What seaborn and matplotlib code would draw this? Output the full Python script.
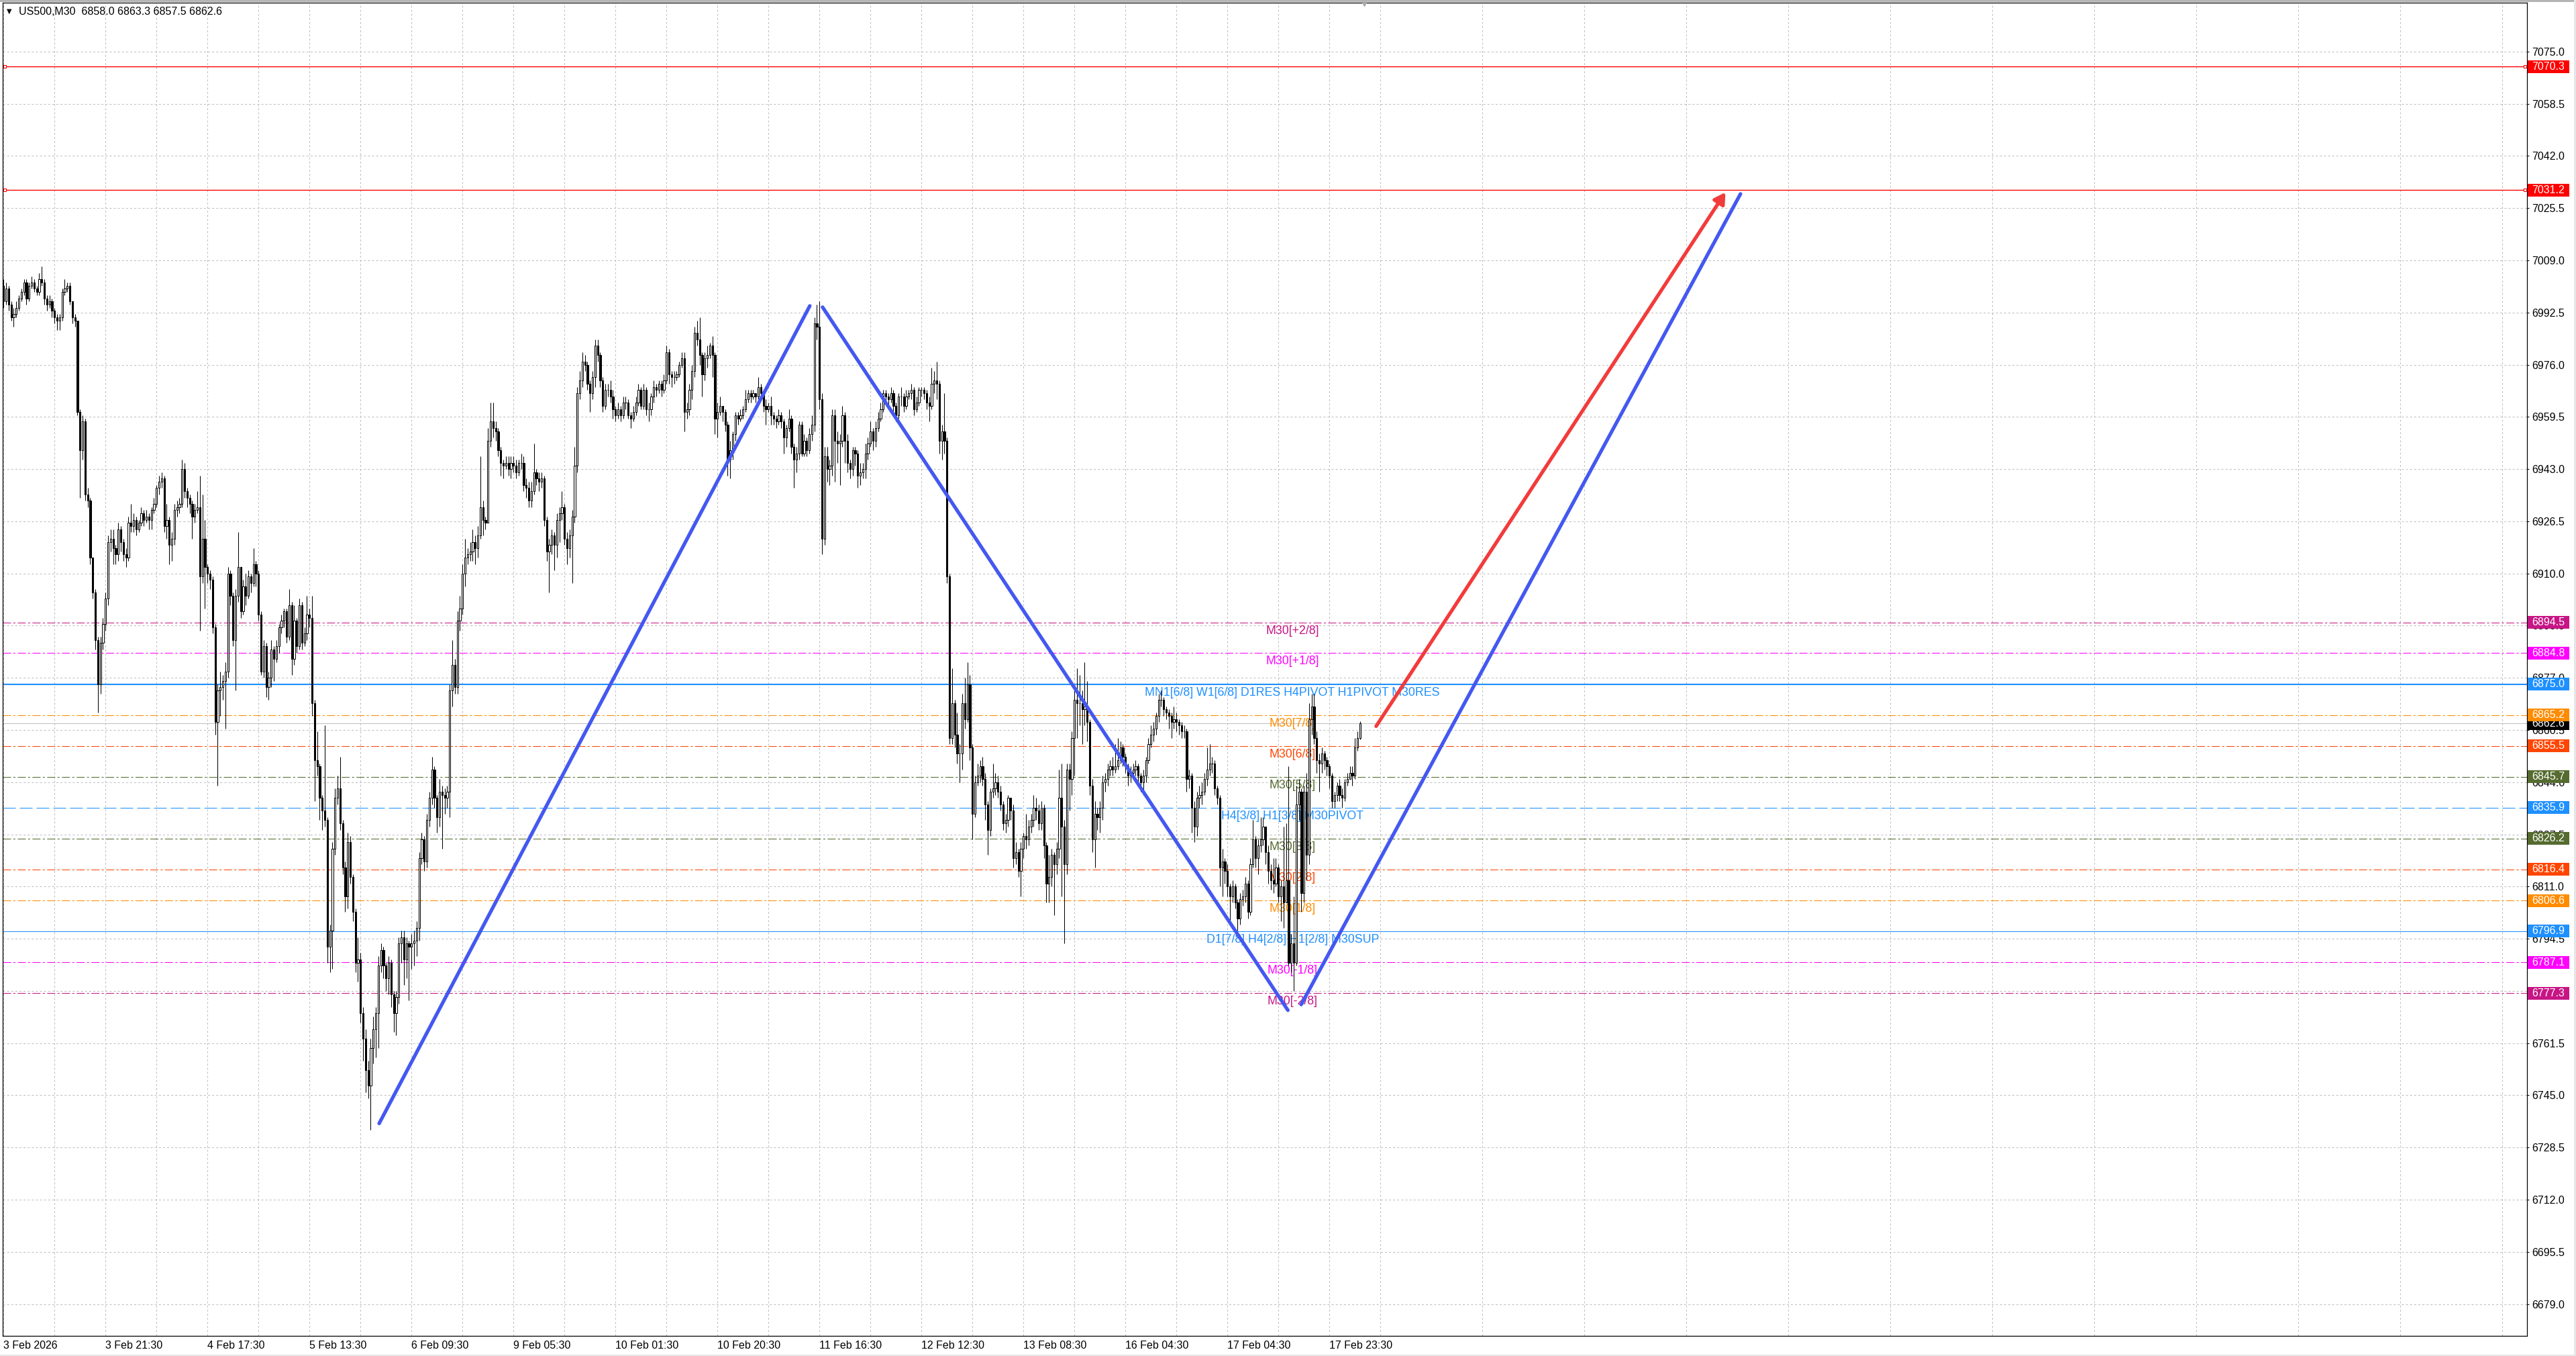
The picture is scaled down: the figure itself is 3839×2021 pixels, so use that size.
"""US500 M30 chart with octave levels, price tags and drawn trend lines."""
import matplotlib
matplotlib.use("Agg")

import matplotlib.pyplot as plt
import matplotlib.transforms as mtransforms
from matplotlib.patches import Rectangle
import numpy as np
import pandas as pd
import seaborn as sns

# =============================================================================
# Data
# =============================================================================
SYMBOL = "US500,M30"
FIRST_OPEN = 7001.0

closes = [
    6996, 7000, 6995, 6991, 6992, 6994, 6997, 6999, 7002, 6997,
    7001, 7002, 7000, 6999, 7003, 7002, 6997, 6995, 6996, 6993,
    6991, 6990, 6991, 6999, 7000, 7001, 6996, 6991, 6990, 6961,
    6949, 6958, 6935, 6933, 6915, 6904, 6889, 6875, 6888, 6894,
    6902, 6920, 6921, 6918, 6916, 6924, 6920, 6916, 6915, 6926,
    6925, 6927, 6924, 6926, 6929, 6927, 6928, 6927, 6930, 6932,
    6937, 6939, 6940, 6925, 6927, 6919, 6921, 6930, 6931, 6932,
    6943, 6936, 6934, 6932, 6928, 6930, 6931, 6909, 6921, 6912,
    6910, 6908, 6893, 6863, 6873, 6874, 6876, 6879, 6910, 6903,
    6889, 6903, 6912, 6898, 6906, 6903, 6909, 6907, 6913, 6910,
    6897, 6879, 6887, 6874, 6877, 6886, 6883, 6887, 6893, 6895,
    6898, 6890, 6900, 6883, 6895, 6887, 6900, 6888, 6891, 6897,
    6896, 6869, 6851, 6849, 6839, 6835, 6832, 6792, 6797, 6823,
    6839, 6842, 6831, 6817, 6808, 6825, 6814, 6803, 6787, 6788,
    6771, 6763, 6753, 6748, 6760, 6766, 6771, 6786, 6791, 6786,
    6782, 6787, 6777, 6771, 6776, 6793, 6795, 6788, 6793, 6792,
    6793, 6794, 6798, 6820, 6826, 6819, 6832, 6839, 6848, 6839,
    6833, 6841, 6840, 6839, 6841, 6873, 6881, 6874, 6895, 6899,
    6910, 6915, 6916, 6917, 6920, 6918, 6922, 6931, 6927, 6926,
    6952, 6958, 6956, 6955, 6949, 6945, 6944, 6945, 6943, 6945,
    6944, 6942, 6945, 6945, 6938, 6937, 6933, 6936, 6942, 6940,
    6939, 6940, 6927, 6917, 6919, 6922, 6919, 6927, 6929, 6931,
    6921, 6918, 6922, 6928, 6944, 6967, 6971, 6977, 6976, 6970,
    6967, 6972, 6982, 6979, 6971, 6963, 6968, 6968, 6966, 6962,
    6960, 6962, 6960, 6964, 6964, 6960, 6959, 6961, 6964, 6968,
    6963, 6968, 6962, 6962, 6966, 6969, 6968, 6970, 6968, 6971,
    6980, 6973, 6972, 6972, 6973, 6976, 6978, 6961, 6962, 6968,
    6974, 6986, 6984, 6979, 6973, 6978, 6979, 6982, 6979, 6959,
    6961, 6963, 6961, 6957, 6946, 6949, 6954, 6960, 6959, 6960,
    6962, 6965, 6967, 6966, 6967, 6966, 6969, 6967, 6963, 6962,
    6963, 6960, 6959, 6958, 6960, 6958, 6953, 6956, 6959, 6950,
    6946, 6948, 6957, 6948, 6952, 6949, 6954, 6957, 6989, 6988,
    6965, 6921, 6947, 6943, 6944, 6960, 6952, 6951, 6952, 6960,
    6952, 6945, 6943, 6949, 6948, 6941, 6942, 6943, 6948, 6951,
    6955, 6952, 6956, 6959, 6962, 6967, 6966, 6965, 6967, 6963,
    6960, 6966, 6966, 6963, 6966, 6967, 6968, 6962, 6964, 6968,
    6968, 6967, 6964, 6963, 6970, 6971, 6970, 6952, 6955, 6952,
    6909, 6858, 6869, 6859, 6853, 6853, 6869, 6864, 6875, 6855,
    6834, 6844, 6846, 6849, 6845, 6837, 6829, 6841, 6842, 6844,
    6841, 6837, 6831, 6832, 6839, 6835, 6820, 6822, 6816, 6823,
    6827, 6826, 6830, 6832, 6836, 6835, 6831, 6836, 6824, 6812,
    6814, 6821, 6818, 6823, 6839, 6830, 6818, 6848, 6845, 6858,
    6870, 6869, 6869, 6867, 6868, 6863, 6843, 6826, 6834, 6833,
    6836, 6844, 6845, 6848, 6849, 6848, 6849, 6851, 6855, 6852,
    6849, 6846, 6847, 6848, 6849, 6846, 6844, 6846, 6851, 6856,
    6859, 6861, 6865, 6870, 6870, 6867, 6866, 6865, 6863, 6864,
    6863, 6862, 6860, 6860, 6845, 6846, 6836, 6830, 6839, 6840,
    6841, 6845, 6848, 6850, 6850, 6842, 6839, 6817, 6819, 6816,
    6811, 6808, 6811, 6806, 6801, 6807, 6808, 6812, 6803, 6818,
    6826, 6820, 6824, 6826, 6830, 6822, 6816, 6813, 6812, 6817,
    6808, 6811, 6806, 6813, 6787, 6793, 6787, 6837, 6841, 6809,
    6841, 6821, 6864, 6868, 6858, 6851, 6850, 6853, 6851, 6849,
    6846, 6838, 6840, 6843, 6840, 6839, 6844, 6845, 6847, 6846,
    6855, 6858, 6862.6,
]

highs = [
    7003, 7002, 7001, 6996, 6994, 6996, 6998, 7000, 7003, 7003,
    7002, 7004, 7003, 7001, 7005, 7007, 7003, 6998, 6998, 6997,
    6994, 6992, 6992, 7000, 7003, 7002, 7002, 6996, 6992, 6990,
    6962, 6960, 6959, 6937, 6934, 6915, 6905, 6890, 6890, 6896,
    6904, 6922, 6924, 6924, 6919, 6926, 6925, 6921, 6918, 6928,
    6932, 6929, 6928, 6927, 6931, 6930, 6930, 6929, 6931, 6934,
    6938, 6941, 6942, 6941, 6932, 6928, 6923, 6932, 6933, 6934,
    6946, 6945, 6937, 6935, 6933, 6932, 6936, 6941, 6935, 6927,
    6913, 6911, 6909, 6894, 6875, 6879, 6878, 6882, 6912, 6911,
    6904, 6905, 6923, 6910, 6908, 6910, 6911, 6910, 6918, 6914,
    6911, 6898, 6889, 6888, 6879, 6889, 6887, 6889, 6894, 6897,
    6899, 6899, 6905, 6901, 6900, 6896, 6902, 6901, 6893, 6903,
    6899, 6903, 6870, 6860, 6850, 6840, 6862, 6833, 6799, 6825,
    6842, 6846, 6852, 6832, 6819, 6828, 6827, 6815, 6804, 6795,
    6790, 6773, 6766, 6756, 6763, 6770, 6773, 6789, 6793, 6792,
    6787, 6789, 6788, 6778, 6778, 6795, 6797, 6797, 6795, 6794,
    6796, 6797, 6800, 6822, 6828, 6827, 6834, 6841, 6852, 6849,
    6840, 6845, 6843, 6842, 6843, 6875, 6889, 6883, 6898, 6903,
    6913, 6921, 6918, 6920, 6924, 6922, 6925, 6947, 6933, 6928,
    6956, 6964, 6964, 6958, 6956, 6950, 6946, 6947, 6947, 6947,
    6947, 6946, 6946, 6948, 6947, 6940, 6939, 6939, 6951, 6943,
    6942, 6942, 6941, 6928, 6921, 6924, 6923, 6929, 6931, 6936,
    6932, 6923, 6924, 6930, 6950, 6969, 6974, 6980, 6979, 6977,
    6971, 6974, 6984, 6984, 6980, 6972, 6970, 6970, 6971, 6968,
    6963, 6964, 6963, 6966, 6966, 6965, 6961, 6963, 6966, 6970,
    6969, 6970, 6969, 6964, 6967, 6971, 6970, 6971, 6971, 6973,
    6982, 6981, 6974, 6974, 6974, 6977, 6980, 6980, 6964, 6970,
    6976, 6988, 6990, 6991, 6980, 6980, 6982, 6983, 6985, 6980,
    6964, 6966, 6963, 6962, 6958, 6952, 6955, 6961, 6961, 6962,
    6963, 6968, 6968, 6968, 6968, 6967, 6972, 6970, 6968, 6965,
    6964, 6966, 6961, 6960, 6962, 6961, 6959, 6957, 6962, 6960,
    6951, 6950, 6958, 6958, 6954, 6953, 6956, 6960, 6991, 6995,
    6996, 6967, 6950, 6950, 6946, 6962, 6962, 6955, 6954, 6963,
    6961, 6954, 6946, 6950, 6950, 6949, 6945, 6945, 6951, 6953,
    6958, 6956, 6958, 6961, 6964, 6968, 6968, 6967, 6969, 6968,
    6964, 6967, 6969, 6967, 6968, 6968, 6970, 6969, 6966, 6969,
    6969, 6969, 6968, 6966, 6975, 6974, 6977, 6971, 6957, 6967,
    6953, 6910, 6880, 6870, 6866, 6856, 6872, 6877, 6882, 6878,
    6856, 6846, 6850, 6851, 6852, 6847, 6838, 6842, 6850, 6847,
    6846, 6843, 6838, 6834, 6840, 6838, 6837, 6825, 6823, 6825,
    6828, 6834, 6832, 6834, 6840, 6839, 6837, 6838, 6837, 6825,
    6821, 6823, 6822, 6825, 6848, 6850, 6832, 6850, 6850, 6860,
    6873, 6880, 6878, 6873, 6882, 6876, 6864, 6845, 6838, 6836,
    6838, 6846, 6847, 6850, 6851, 6852, 6856, 6858, 6857, 6856,
    6853, 6850, 6849, 6850, 6851, 6850, 6847, 6848, 6852, 6858,
    6862, 6863, 6866, 6872, 6873, 6871, 6868, 6867, 6866, 6868,
    6866, 6864, 6863, 6862, 6861, 6848, 6847, 6838, 6841, 6843,
    6844, 6847, 6855, 6856, 6852, 6851, 6843, 6840, 6823, 6820,
    6818, 6812, 6813, 6812, 6807, 6809, 6810, 6814, 6813, 6820,
    6832, 6827, 6826, 6833, 6833, 6830, 6824, 6818, 6820, 6820,
    6818, 6813, 6830, 6831, 6849, 6796, 6808, 6843, 6845, 6842,
    6843, 6847, 6869, 6872, 6872, 6860, 6853, 6855, 6854, 6852,
    6850, 6847, 6841, 6844, 6845, 6842, 6845, 6847, 6849, 6849,
    6858, 6860, 6863.3,
]

lows = [
    6994, 6995, 6993, 6990, 6988, 6991, 6993, 6996, 6998, 6995,
    6996, 7000, 6999, 6998, 6998, 7001, 6995, 6993, 6994, 6991,
    6989, 6987, 6987, 6990, 6998, 6999, 6995, 6989, 6988, 6960,
    6934, 6946, 6933, 6931, 6913, 6902, 6886, 6866, 6872, 6886,
    6892, 6900, 6917, 6913, 6913, 6914, 6917, 6914, 6912, 6914,
    6923, 6923, 6922, 6923, 6925, 6925, 6926, 6924, 6924, 6929,
    6931, 6935, 6937, 6923, 6921, 6913, 6914, 6919, 6928, 6929,
    6931, 6934, 6931, 6929, 6921, 6926, 6929, 6892, 6907, 6899,
    6907, 6905, 6891, 6859, 6843, 6865, 6870, 6861, 6877, 6900,
    6887, 6873, 6901, 6896, 6897, 6900, 6902, 6904, 6906, 6906,
    6895, 6878, 6877, 6871, 6870, 6874, 6876, 6882, 6885, 6891,
    6893, 6888, 6889, 6878, 6881, 6885, 6886, 6886, 6887, 6889,
    6893, 6865, 6838, 6846, 6832, 6829, 6830, 6787, 6784, 6785,
    6821, 6837, 6829, 6815, 6803, 6804, 6812, 6800, 6784, 6781,
    6768, 6756, 6746, 6744, 6734, 6755, 6757, 6760, 6784, 6782,
    6778, 6777, 6773, 6765, 6764, 6774, 6787, 6780, 6782, 6775,
    6785, 6786, 6789, 6794, 6818, 6816, 6817, 6830, 6837, 6836,
    6828, 6830, 6823, 6834, 6836, 6833, 6868, 6872, 6872, 6892,
    6897, 6906, 6913, 6914, 6914, 6913, 6915, 6921, 6922, 6924,
    6926, 6950, 6953, 6952, 6947, 6941, 6940, 6943, 6941, 6940,
    6942, 6940, 6941, 6943, 6936, 6934, 6931, 6931, 6935, 6938,
    6936, 6937, 6925, 6914, 6904, 6916, 6911, 6915, 6920, 6927,
    6919, 6913, 6915, 6907, 6926, 6942, 6965, 6969, 6974, 6968,
    6961, 6965, 6969, 6977, 6969, 6961, 6962, 6966, 6964, 6959,
    6958, 6959, 6958, 6959, 6962, 6959, 6956, 6958, 6960, 6963,
    6962, 6962, 6960, 6958, 6960, 6964, 6966, 6967, 6966, 6967,
    6970, 6970, 6969, 6970, 6971, 6972, 6975, 6955, 6959, 6960,
    6965, 6972, 6982, 6976, 6966, 6971, 6975, 6978, 6972, 6954,
    6953, 6960, 6958, 6955, 6941, 6940, 6946, 6952, 6957, 6958,
    6959, 6961, 6964, 6964, 6965, 6964, 6965, 6965, 6961, 6957,
    6961, 6957, 6957, 6956, 6957, 6956, 6948, 6950, 6955, 6948,
    6937, 6942, 6946, 6947, 6947, 6947, 6948, 6952, 6955, 6984,
    6962, 6916, 6919, 6939, 6938, 6941, 6939, 6945, 6938, 6950,
    6945, 6942, 6940, 6941, 6944, 6937, 6938, 6940, 6940, 6946,
    6950, 6949, 6950, 6955, 6958, 6961, 6964, 6963, 6964, 6961,
    6958, 6959, 6963, 6961, 6962, 6965, 6965, 6960, 6961, 6963,
    6966, 6965, 6962, 6958, 6962, 6967, 6965, 6948, 6946, 6948,
    6907, 6856, 6856, 6855, 6850, 6844, 6848, 6861, 6863, 6851,
    6826, 6833, 6843, 6844, 6843, 6832, 6821, 6827, 6839, 6840,
    6839, 6835, 6829, 6828, 6830, 6832, 6817, 6818, 6814, 6808,
    6820, 6823, 6824, 6828, 6830, 6832, 6829, 6829, 6820, 6806,
    6806, 6811, 6802, 6815, 6820, 6808, 6793, 6815, 6835, 6840,
    6846, 6858, 6862, 6856, 6862, 6857, 6840, 6822, 6817, 6829,
    6828, 6832, 6841, 6843, 6846, 6846, 6847, 6848, 6850, 6849,
    6847, 6843, 6844, 6845, 6846, 6843, 6841, 6840, 6844, 6850,
    6855, 6857, 6859, 6863, 6868, 6865, 6864, 6861, 6858, 6861,
    6860, 6859, 6858, 6858, 6841, 6842, 6828, 6825, 6827, 6836,
    6837, 6840, 6843, 6846, 6847, 6840, 6837, 6811, 6808, 6812,
    6808, 6800, 6806, 6804, 6797, 6799, 6805, 6806, 6801, 6802,
    6817, 6817, 6815, 6822, 6824, 6818, 6812, 6810, 6809, 6811,
    6806, 6800, 6798, 6806, 6786, 6784, 6778, 6786, 6832, 6803,
    6806, 6813, 6818, 6859, 6856, 6847, 6841, 6847, 6848, 6846,
    6842, 6836, 6836, 6838, 6838, 6836, 6838, 6843, 6845, 6843,
    6845, 6854, 6857.5,
]

tick_bars = [0, 40, 80, 120, 160, 200, 240, 280, 320, 360, 400, 440, 480, 520]
tick_labels = [
    "3 Feb 2026", "3 Feb 21:30", "4 Feb 17:30", "5 Feb 13:30", "6 Feb 09:30",
    "9 Feb 05:30", "10 Feb 01:30", "10 Feb 20:30", "11 Feb 16:30",
    "12 Feb 12:30", "13 Feb 08:30", "16 Feb 04:30", "17 Feb 04:30",
    "17 Feb 23:30",
]
grid_bars = [20, 60, 100, 140, 180, 220, 260, 300, 340, 380, 420, 460, 500,
             540, 580, 620, 660, 700, 740, 780, 820, 860, 900, 940, 980]
price_ticks = [
    6679.0, 6695.5, 6712.0, 6728.5, 6745.0, 6761.5, 6778.0, 6794.5, 6811.0,
    6827.5, 6844.0, 6860.5, 6877.0, 6893.5, 6910.0, 6926.5, 6943.0, 6959.5,
    6976.0, 6992.5, 7009.0, 7025.5, 7042.0, 7058.5, 7075.0,
]

level_prices = [6894.5, 6884.8, 6875.0, 6865.2, 6855.5, 6845.7, 6835.9,
                6826.2, 6816.4, 6806.6, 6796.9, 6787.1, 6777.3]
level_names = [
    "M30[+2/8]", "M30[+1/8]", "MN1[6/8] W1[6/8] D1RES H4PIVOT H1PIVOT M30RES",
    "M30[7/8]", "M30[6/8]", "M30[5/8]", "H4[3/8] H1[3/8] M30PIVOT",
    "M30[3/8]", "M30[2/8]", "M30[1/8]", "D1[7/8] H4[2/8] H1[2/8] M30SUP",
    "M30[-1/8]", "M30[-2/8]",
]
target_prices = [7070.3, 7031.2]

trend_leg = ["up1", "up1", "down", "down", "up2", "up2"]
trend_bar = [147.3, 316.2, 321.2, 503.7, 508.9, 681.2]
trend_price = [6736.1, 6994.6, 6994.2, 6771.9, 6773.7, 7030.0]

arrow_bar = [538.3, 675.3]
arrow_price = [6861.7, 7030.5]

# =============================================================================
# Styling
# =============================================================================
W_PX, H_PX = 3839, 2021
AX_LEFT, AX_RIGHT, AX_TOP, AX_BOTTOM = 4, 3766, 4, 1991   # pixels
XLIM = (-0.34, 989.66)
YLIM = (6668.95, 7090.46)
PX_PER_PT = 4.714

DASHDOT = (0, (8.6, 2.5, 2.2, 2.5))
DASHED = (0, (13.7, 4.3))
level_colors = ["#C71585", "#FF00FF", "#1E90FF", "#FF8C00", "#FF4500",
                "#556B2F", "#1E90FF", "#556B2F", "#FF4500", "#FF8C00",
                "#1E90FF", "#FF00FF", "#C71585"]
level_ls = [DASHDOT, DASHDOT, "-", DASHDOT, DASHDOT, DASHDOT, DASHED,
            DASHDOT, DASHDOT, DASHDOT, "-", DASHDOT, DASHDOT]
level_lw = [0.75, 0.75, 1.5, 0.75, 0.75, 0.75, 0.75, 0.75, 0.75, 0.75,
            0.75, 0.75, 0.75]
LABEL_BAR = 505.5
TREND_BLUE = "#4458F0"
ARROW_RED = "#F23B3B"
TREND_LW = 3.8
FONT = 11.5

sns.set_theme(style="white")
plt.rcParams["font.family"] = ["Liberation Sans", "DejaVu Sans"]
plt.rcParams["lines.scale_dashes"] = False
for key in ("text.color", "axes.labelcolor", "xtick.color", "ytick.color"):
    plt.rcParams[key] = "black"

# =============================================================================
# Figure
# =============================================================================
fig = plt.figure(figsize=(W_PX / 100, H_PX / 100), dpi=100)
fig.patch.set_facecolor("white")
ax = fig.add_axes([AX_LEFT / W_PX, 1 - AX_BOTTOM / H_PX,
                   (AX_RIGHT - AX_LEFT) / W_PX, (AX_BOTTOM - AX_TOP) / H_PX])
ax.set_facecolor("white")

# window frame strips
fig.patches.append(Rectangle((0, 1 - 3 / H_PX), 1, 3 / H_PX, transform=fig.transFigure,
                             facecolor="#B4B4B4", edgecolor="none"))
fig.patches.append(Rectangle((1 - 3 / W_PX, 0), 3 / W_PX, 1, transform=fig.transFigure,
                             facecolor="#E6E6E6", edgecolor="none"))
fig.patches.append(Rectangle((0, 0), 1, 2 / H_PX, transform=fig.transFigure,
                             facecolor="#E6E6E6", edgecolor="none"))

# candles
df = pd.DataFrame({"close": closes, "high": highs, "low": lows})
assert len(df) == len(closes) == len(highs) == len(lows)
df["open"] = [FIRST_OPEN] + closes[:-1]
df["bar"] = np.arange(len(df))
up = df["close"] >= df["open"]

ax.vlines(df["bar"], df["low"], df["high"], color="black", lw=0.75, zorder=4)
for mask, face in ((up, "white"), (~up, "black")):
    sub = df[mask]
    ax.bar(sub["bar"], sub["close"] - sub["open"], bottom=sub["open"], width=0.55,
           color=face, edgecolor="black", linewidth=0.75, zorder=5)

# levels
trans_y = mtransforms.blended_transform_factory(ax.transAxes, ax.transData)
for price, name, col, ls, lw in zip(level_prices, level_names, level_colors,
                                    level_ls, level_lw):
    ax.axhline(price, color=col, ls=ls, lw=lw, zorder=2)
    ax.text(LABEL_BAR, price - 17.0 / PX_PER_PT, name, color=col, fontsize=12.8,
            ha="center", va="baseline", zorder=3)

last_close = closes[-1]
ax.axhline(last_close, color="#C0C0C0", lw=0.75, zorder=2)

for price in target_prices:
    ax.axhline(price, color="#FF0000", lw=1.0, zorder=2)
    ax.plot([0.0008, 0.9991], [price, price], transform=trans_y, ls="none",
            marker="s", ms=3.0, mfc="white", mec="#FF0000", mew=0.8,
            clip_on=False, zorder=6)

# trend lines
trend = pd.DataFrame({"leg": trend_leg, "bar": trend_bar, "price": trend_price})
sns.lineplot(data=trend, x="bar", y="price", units="leg", estimator=None,
             sort=False, color=TREND_BLUE, linewidth=TREND_LW, solid_capstyle="round",
             ax=ax, legend=False, zorder=7)
ax.annotate("", xy=(arrow_bar[1], arrow_price[1]), xytext=(arrow_bar[0], arrow_price[0]),
            arrowprops=dict(arrowstyle="-|>,head_length=0.6,head_width=0.35",
                            mutation_scale=16, lw=TREND_LW, color=ARROW_RED,
                            shrinkA=0, shrinkB=0, capstyle="round"),
            zorder=7)

# axes
ax.set_xlim(*XLIM)
ax.set_ylim(*YLIM)
ax.set_xlabel("")
ax.set_ylabel("")
ax.set_xticks(tick_bars)
ax.set_xticklabels(tick_labels, ha="left")
ax.set_xticks(grid_bars, minor=True)
ax.yaxis.tick_right()
ax.set_yticks(price_ticks)
ax.set_yticklabels([f"{v:.1f}" for v in price_ticks])
ax.tick_params(axis="y", which="major", direction="out", length=2.2, width=0.75,
               pad=2.9, labelsize=FONT, right=True, left=False)
ax.tick_params(axis="x", which="major", direction="inout", length=4.3, width=0.75,
               pad=3.0, labelsize=FONT)
ax.tick_params(axis="x", which="minor", length=0)
ax.set_axisbelow(True)
ax.grid(True, which="both", axis="x", color="#C0C0C0", lw=0.75, ls=(0, (2.2, 2.2)))
ax.grid(True, which="major", axis="y", color="#C0C0C0", lw=0.75, ls=(0, (2.2, 2.2)))
for side in ("left", "right", "top", "bottom"):
    ax.spines[side].set_visible(True)
    ax.spines[side].set_color("black")
    ax.spines[side].set_linewidth(0.9)

# price tags on the right scale
TAG_W = 62 / (AX_RIGHT - AX_LEFT)
TAG_H = 19 / PX_PER_PT
TEXT_X = 1 + 7 / (AX_RIGHT - AX_LEFT)


def price_tag(price, face, z):
    ax.add_patch(Rectangle((1.0003, price - TAG_H / 2), TAG_W, TAG_H, transform=trans_y,
                           facecolor=face, edgecolor="none", clip_on=False, zorder=z))
    ax.text(TEXT_X, price, f"{price:.1f}", transform=trans_y, color="white",
            fontsize=FONT, ha="left", va="center", clip_on=False, zorder=z + 0.5)


price_tag(last_close, "black", 10)
for price, col in zip(level_prices, level_colors):
    price_tag(price, col, 11)
for price in target_prices:
    price_tag(price, "#FF0000", 11)

# header and shift marker
fig.text(14 / W_PX, 1 - 17 / H_PX, "\u25bc", fontsize=7, ha="center", va="center",
         family=["DejaVu Sans"])
header = (f"{SYMBOL}  {df['open'].iloc[-1]:.1f} {highs[-1]:.1f} "
          f"{lows[-1]:.1f} {last_close:.1f}")
fig.text(28 / W_PX, 1 - 17 / H_PX, header, fontsize=FONT, ha="left", va="center")
trans_x = mtransforms.blended_transform_factory(ax.transData, ax.transAxes)
ax.plot([len(closes) + 0.6], [0.999], transform=trans_x, marker="v", ms=5,
        color="#A8A8A8", ls="none", clip_on=False, zorder=8)

fig.savefig("out.png", dpi=100)
